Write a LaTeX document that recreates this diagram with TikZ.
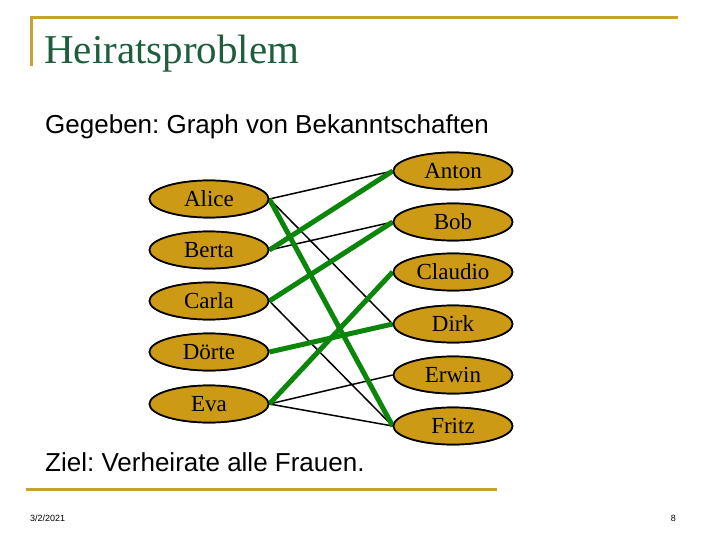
\documentclass[tikz,border=0pt]{standalone}
\usepackage{fontspec}
\setmainfont{Liberation Serif}
\setsansfont{Liberation Sans}
\usetikzlibrary{shapes.geometric}
\definecolor{goldline}{HTML}{C9A032}
\definecolor{titlegreen}{HTML}{1E5E3C}
\definecolor{nodefill}{HTML}{CC9A14}
\definecolor{matchgreen}{HTML}{0B860B}
\frenchspacing
\tikzset{
  person/.style={ellipse, draw=black, line width=1.7pt, fill=nodefill,
    minimum width=119pt, minimum height=37pt, inner sep=0pt,
    font=\fontsize{23}{23}\selectfont\rmfamily},
  acq/.style={draw=black, line width=1.5pt},
  match/.style={draw=matchgreen, line width=5pt},
  goldrule/.style={draw=goldline, line width=3pt},
}
\begin{document}
\begin{tikzpicture}[x=1pt,y=-1pt]
\useasboundingbox (0,0) rectangle (720,540);
% frame lines
\coordinate (tl) at (31,18);
\coordinate (tr) at (678,18);
\coordinate (bl) at (31,66);
\draw[goldrule] (bl) -- (tl) -- (tr);
\coordinate (ba) at (26,489);
\coordinate (bb) at (497,489);
\draw[goldrule] (ba) -- (bb);
% texts
\node[anchor=base west, inner sep=0pt, text=titlegreen, font=\fontsize{41}{41}\selectfont\rmfamily] (title) at (44,64) {Heiratsproblem};
\node[anchor=base west, inner sep=0pt, font=\fontsize{26}{26}\selectfont\sffamily] (given) at (45,134) {Gegeben: Graph von Bekanntschaften};
\node[anchor=base west, inner sep=0pt, font=\fontsize{26}{26}\selectfont\sffamily] (goal) at (45,471) {Ziel: Verheirate alle Frauen.};
\node[anchor=base west, inner sep=0pt, font=\fontsize{9}{9}\selectfont\sffamily] (date) at (30,521) {3/2/2021};
\node[anchor=base east, inner sep=0pt, font=\fontsize{9}{9}\selectfont\sffamily] (page) at (676,521) {8};
% women
\node[person] (alice) at (209,199) {Alice};
\node[person] (berta) at (209,250) {Berta};
\node[person] (carla) at (209,301) {Carla};
\node[person] (doerte) at (209,352) {Dörte};
\node[person] (eva) at (209,404) {Eva};
% men
\node[person] (anton) at (453,171) {Anton};
\node[person] (bob) at (453,222) {Bob};
\node[person] (claudio) at (453,272) {Claudio};
\node[person] (dirk) at (453,324) {Dirk};
\node[person] (erwin) at (453,375) {Erwin};
\node[person] (fritz) at (453,426) {Fritz};
% acquaintances
\draw[acq] (alice.east) -- (anton.west);
\draw[acq] (alice.east) -- (dirk.west);
\draw[acq] (berta.east) -- (bob.west);
\draw[acq] (carla.east) -- (fritz.west);
\draw[acq] (eva.east) -- (erwin.west);
\draw[acq] (eva.east) -- (fritz.west);
% matching
\draw[match] (alice.east) -- (fritz.west);
\draw[match] (berta.east) -- (anton.west);
\draw[match] (carla.east) -- (bob.west);
\draw[match] (doerte.east) -- (dirk.west);
\draw[match] (eva.east) -- (claudio.west);
% redraw nodes on top
\node[person] at (alice) {Alice};
\node[person] at (berta) {Berta};
\node[person] at (carla) {Carla};
\node[person] at (doerte) {Dörte};
\node[person] at (eva) {Eva};
\node[person] at (anton) {Anton};
\node[person] at (bob) {Bob};
\node[person] at (claudio) {Claudio};
\node[person] at (dirk) {Dirk};
\node[person] at (erwin) {Erwin};
\node[person] at (fritz) {Fritz};
\end{tikzpicture}
\end{document}
